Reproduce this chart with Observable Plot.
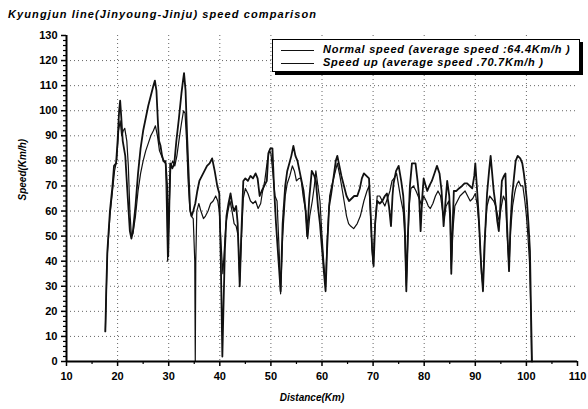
<!DOCTYPE html>
<html><head><meta charset="utf-8">
<script src="https://cdn.jsdelivr.net/npm/d3@7"></script>
<script src="https://cdn.jsdelivr.net/npm/@observablehq/plot@0.6"></script>
<style>
body{margin:0;background:#fff;}
#wrap{position:relative;width:588px;height:409px;font-family:"Liberation Sans",Arial,sans-serif;color:#000;}
#title{position:absolute;left:8px;top:8px;font-size:11px;font-weight:bold;font-style:italic;white-space:nowrap;letter-spacing:1.1px;}
#legend{position:absolute;left:272px;top:39px;width:306px;height:31px;border:1px solid #000;box-shadow:3px 3px 0 #000;background:#fff;font-size:11px;font-weight:bold;font-style:italic;letter-spacing:0.75px;}
.row{position:absolute;left:8px;height:13px;line-height:13px;white-space:nowrap;}
.row .sw{display:inline-block;width:33px;height:0;border-top:1.5px solid #111;vertical-align:middle;margin-right:9px;}
</style>
</head><body>
<div id="wrap">
<div id="chart"></div>
<div id="title"></div>
<div id="legend"></div>
</div>
<script>
const titleText = "Kyungjun line(Jinyoung-Jinju) speed comparison";
const seriesNames = ["Normal speed (average speed :64.4Km/h )", "Speed up (average speed .70.7Km/h )"];
const xTicks = [10,20,30,40,50,60,70,80,90,100,110];
const yTicks = [0,10,20,30,40,50,60,70,80,90,100,110,120,130];
const xGrid = [20,30,40,50,60,70,80,90,100];
const yGrid = [10,20,30,40,50,60,70,80,90,100,110,120];
const xMinor = [15,25,35,45,55,65,75,85,95,105];
const yMinor = d3.range(0,131,2).filter(v => v % 10 !== 0);

const normalKm = [17.6,17.8,18,18.5,19,19.4,19.8,20.2,20.5,20.8,21.1,21.4,21.8,22.1,22.4,22.7,23,23.5,24,24.5,25,25.5,26,26.5,27,27.4,27.8,28.2,28.6,29,29.4,29.6,29.8,30.1,30.4,30.8,31.2,31.6,32,32.5,32.9,33.2,33.5,33.8,34.1,34.4,34.8,35.1,35.2,35.3,35.5,35.9,36.3,36.8,37.2,37.7,38.2,38.7,39.2,39.6,39.9,40.3,40.6,40.9,41.2,41.6,42,42.4,42.8,43.2,43.6,43.9,44.2,44.6,45,45.5,46,46.5,47,47.5,48,48.3,48.8,49.3,49.7,50,50.4,50.8,51.2,51.6,51.9,52.3,52.8,53.2,53.7,54.2,54.6,55,55.5,55.9,56.3,56.8,57.2,57.6,58.1,58.5,58.8,59.2,59.6,60,60.4,60.7,61,61.5,61.9,62.4,63,63.5,64,64.4,64.8,65.2,65.6,66.2,66.9,67.5,68.2,68.8,69.2,69.5,69.8,70,70.3,70.8,71.3,71.8,72.3,72.8,73.3,73.7,74.1,74.6,75,75.4,75.9,76.2,76.5,76.8,77.1,77.4,77.9,78.4,78.8,79.2,79.5,79.9,80.4,80.8,81.2,81.7,82.2,82.7,83.2,83.6,83.9,84.3,84.8,85.1,85.3,85.6,86,86.5,87,87.5,88,88.5,89,89.5,90,90.4,90.8,91.2,91.5,91.8,92.3,92.8,93.2,93.6,94,94.4,94.7,95.1,95.5,95.9,96.2,96.6,96.9,97.3,97.7,97.9,98.2,98.5,98.9,99.3,99.7,100,100.3,100.6,100.9,101];
const normalSpeed = [12,28,43,58,68,76,80,92,96,90,92,93,88,78,60,50,51,58,68,75,80,84,87,90,92,94,90,84,82,80,80,60,40,62,78,80,78,82,88,95,100,99,88,72,62,58,57,40,0,40,60,63,60,57,58,60,63,64,66,64,60,45,35,45,55,60,64,60,55,54,50,32,48,65,69,67,64,63,64,61,63,67,72,80,84,83,75,66,64,45,27,50,66,71,74,78,76,72,73,73,66,60,49,58,64,70,76,70,64,50,38,30,48,66,70,74,79,74,68,63,58,55,54,53,55,58,64,68,70,58,45,39,52,66,66,64,62,65,68,72,73,75,70,65,60,50,30,48,63,69,70,68,66,64,62,66,64,62,61,63,66,68,66,60,57,62,64,55,37,52,62,64,66,67,68,66,64,65,67,62,52,35,30,48,62,66,65,64,62,58,56,62,66,64,52,38,52,62,67,69,71,72,70,70,64,58,50,40,18,0];

const upKm = [17.6,17.8,18,18.5,19,19.3,19.7,20,20.3,20.5,20.7,21,21.5,22,22.4,22.7,23,23.5,24,24.5,25,25.5,26,26.5,27,27.3,27.6,27.9,28.1,28.4,28.7,29,29.4,29.7,29.9,30.1,30.3,30.7,31.1,31.5,32,32.5,32.8,33,33.3,33.6,33.9,34.2,34.5,34.8,35.2,35.6,36,36.5,37,37.5,38,38.5,39,39.5,39.9,40.2,40.5,40.7,41,41.3,41.7,42.1,42.5,42.8,43.2,43.5,43.9,44.2,44.6,45,45.5,46,46.5,47,47.4,47.8,48.2,48.7,49.2,49.5,49.9,50.3,50.6,51,51.5,51.9,52.3,52.8,53.2,53.6,54,54.4,54.8,55.2,55.6,56,56.4,56.8,57.1,57.5,58,58.5,58.8,59.2,59.6,60,60.4,60.7,61,61.4,61.8,62.3,62.7,63,63.4,63.8,64.3,64.8,65.3,65.8,66.3,66.9,67.4,67.8,68.2,68.7,69.2,69.5,69.8,70.1,70.4,70.8,71.3,71.8,72.3,72.7,73.1,73.5,73.8,74,74.5,75,75.5,75.9,76.2,76.5,76.8,77.2,77.6,78.3,78.7,79,79.3,79.6,79.9,80.3,80.6,81,81.5,82,82.5,83,83.4,83.8,84.1,84.5,84.9,85.1,85.3,85.5,85.8,86.3,86.8,87.4,87.9,88.4,88.9,89.4,89.8,90,90.3,90.7,91.1,91.5,91.9,92.3,92.7,93,93.3,93.6,94,94.3,94.6,94.9,95.2,95.6,95.9,96.2,96.6,96.9,97.2,97.6,97.9,98.3,98.8,99.2,99.5,99.8,100.1,100.4,100.7,100.9,101.1];
const upSpeed = [12,30,44,60,70,78,79,88,100,104,98,88,82,65,52,49,52,62,75,85,92,97,102,106,110,112,108,95,88,86,82,80,79,70,42,60,79,77,79,88,97,107,112,115,108,90,75,60,58,60,63,68,72,74,76,78,79,81,76,70,67,40,2,20,45,58,63,67,62,60,62,55,30,50,72,73,72,74,73,75,73,66,68,70,72,83,85,85,70,55,40,28,55,70,76,79,82,86,82,80,76,72,68,60,50,65,76,74,72,62,55,45,35,28,45,62,67,74,80,82,78,74,70,66,64,65,66,66,69,73,75,74,73,60,45,38,55,64,63,64,66,67,62,54,66,71,76,78,72,66,55,28,50,70,79,79,72,66,52,65,73,70,68,70,72,75,78,75,68,54,62,72,66,58,35,50,68,68,69,70,71,71,70,69,74,79,70,57,40,28,50,67,76,82,75,68,62,56,52,62,72,74,75,55,36,55,66,74,80,82,81,79,75,70,64,55,44,20,0];

const normal = normalKm.map((km, i) => ({km, speed: normalSpeed[i]}));
const speedUp = upKm.map((km, i) => ({km, speed: upSpeed[i]}));

document.getElementById("title").textContent = titleText;
const leg = document.getElementById("legend");
seriesNames.forEach((name, i) => {
  const r = document.createElement("div");
  r.className = "row";
  r.style.top = (3 + i * 13) + "px";
  const sw = document.createElement("span");
  sw.className = "sw";
  r.appendChild(sw);
  r.appendChild(document.createTextNode(name));
  leg.appendChild(r);
});

const font = "Liberation Sans, Arial, sans-serif";
const chart = Plot.plot({
  width: 588, height: 409,
  marginLeft: 66, marginRight: 11, marginTop: 35, marginBottom: 48,
  x: {domain: [10, 110]},
  y: {domain: [0, 130]},
  style: {fontFamily: font, fontSize: "11px", fontWeight: "bold", color: "#000", background: "#fff"},
  marks: [
    Plot.gridY(yGrid, {stroke: "#666", strokeOpacity: 1, strokeDasharray: "1,3"}),
    Plot.gridX(xGrid, {stroke: "#666", strokeOpacity: 1, strokeDasharray: "1,3"}),
    Plot.line(normal, {x: "km", y: "speed", stroke: "#111", strokeWidth: 1.2}),
    Plot.line(speedUp, {x: "km", y: "speed", stroke: "#111", strokeWidth: 1.8}),
    Plot.ruleX([10], {y1: 0, y2: 130, stroke: "#000", strokeWidth: 2}),
    Plot.ruleY([0], {x1: 10, x2: 110, stroke: "#000", strokeWidth: 2}),
    Plot.axisY(yTicks, {tickSize: 5, tickPadding: 4, strokeWidth: 1.5, label: null, fontSize: 11}),
    Plot.axisY(yMinor, {tickSize: 3, text: null, label: null, strokeWidth: 1.2}),
    Plot.axisX(xTicks, {tickSize: 5, tickPadding: 6, strokeWidth: 1.5, label: null, fontSize: 11}),
    Plot.axisX(xMinor, {tickSize: 3, text: null, label: null, strokeWidth: 1.2}),
    Plot.text(["Speed(Km/h)"], {frameAnchor: "left", rotate: -90, dx: -44, dy: 2, fontStyle: "italic", fontWeight: "bold", fontSize: 10, letterSpacing: "1.4px"}),
    Plot.text(["Distance(Km)"], {frameAnchor: "bottom", dx: -10, dy: 39, fontStyle: "italic", fontWeight: "bold", fontSize: 10, letterSpacing: "0.6px"})
  ]
});
document.getElementById("chart").appendChild(chart);
</script>
</body></html>
